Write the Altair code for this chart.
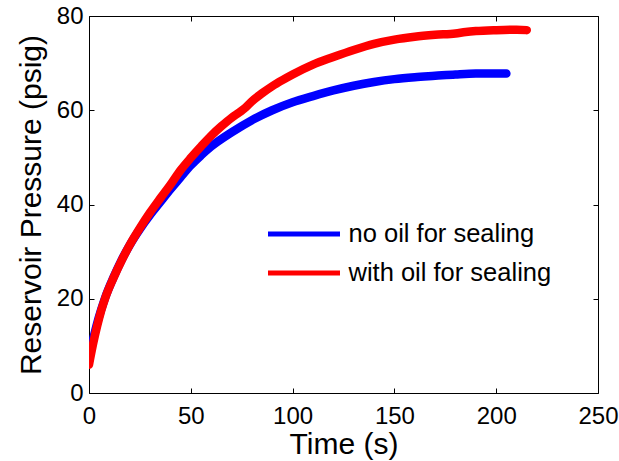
import altair as alt
import pandas as pd

# Series labels and colours
series_names = ["no oil for sealing", "with oil for sealing"]
series_colors = ["#0000ff", "#ff0000"]

# Reservoir pressure (psig) against time (s), no oil for sealing
t_no_oil = [0, 2, 4, 6, 8, 12, 16, 20, 25, 30, 35, 40, 45, 50, 55, 60, 70, 80,
            90, 100, 110, 120, 130, 140, 150, 160, 170, 180, 190, 200, 205]
p_no_oil = [7.8, 11.4, 14.8, 17.7, 20.3, 24.5, 28.2, 31.4, 34.8, 37.8, 40.5,
            43.2, 45.8, 48.3, 50.4, 52.3, 55.3, 57.9, 60.0, 61.7, 63.0, 64.2,
            65.2, 66.0, 66.6, 67.0, 67.3, 67.6, 67.8, 67.8, 67.8]

# Reservoir pressure (psig) against time (s), with oil for sealing
t_with_oil = [0, 2, 4, 6, 8, 12, 16, 20, 25, 30, 35, 40, 45, 50, 55, 60, 65, 70,
              74, 77, 80, 85, 90, 95, 100, 110, 120, 130, 140, 150, 160, 170,
              180, 185, 190, 200, 210, 215]
p_with_oil = [6.0, 10.4, 14.2, 17.5, 20.2, 24.4, 28.1, 31.4, 35.0, 38.3, 41.3,
              44.2, 47.3, 49.9, 52.3, 54.6, 56.6, 58.4, 59.6, 60.6, 61.9, 63.6,
              65.1, 66.4, 67.6, 69.7, 71.3, 72.8, 74.1, 75.0, 75.6, 76.0, 76.3,
              76.6, 76.8, 77.0, 77.1, 77.0]

x_ticks = [0, 50, 100, 150, 200, 250]
y_ticks = [0, 20, 40, 60, 80]

W, H = 509, 377
FONT = "Liberation Sans"

df = pd.concat(
    [
        pd.DataFrame({"t": t_no_oil, "p": p_no_oil, "series": series_names[0]}),
        pd.DataFrame({"t": t_with_oil, "p": p_with_oil, "series": series_names[1]}),
    ],
    ignore_index=True,
)

x_scale = alt.Scale(domain=[0, 250], nice=False, zero=False)
y_scale = alt.Scale(domain=[0, 80], nice=False, zero=False)

label_style = dict(labelFont=FONT, labelFontSize=24, labelColor="black",
                   labelFlush=False, labelOverlap=False, labelBound=False)
title_style = dict(titleFont=FONT, titleFontSize=30, titleFontWeight="normal",
                   titleColor="black", titleBaseline="alphabetic", titleAlign="center")

lines = alt.Chart(df).mark_line(
    strokeWidth=8.5, strokeCap="round", strokeJoin="round",
    interpolate="monotone", clip=True,
).encode(
    x=alt.X("t:Q", scale=x_scale, axis=alt.Axis(
        orient="bottom", values=x_ticks, ticks=False, tickSize=0, domain=False,
        grid=False, labelPadding=11, title="Time (s)", titleX=W / 2, titleY=60,
        **label_style, **title_style)),
    y=alt.Y("p:Q", scale=y_scale, axis=alt.Axis(
        orient="left", values=y_ticks, ticks=False, tickSize=0, domain=False,
        grid=False, labelPadding=6, title="Reservoir Pressure (psig)",
        titleAngle=270, titleX=-49, titleY=H / 2,
        **label_style, **title_style)),
    color=alt.Color("series:N",
                    scale=alt.Scale(domain=series_names, range=series_colors),
                    legend=alt.Legend(
                        orient="none", legendX=176.5, legendY=203, title=None,
                        direction="vertical", symbolType="stroke",
                        symbolSize=5184, symbolStrokeWidth=5, clipHeight=30,
                        rowPadding=9, labelOffset=6, labelFont=FONT,
                        labelFontSize=25.5, labelColor="black", labelLimit=0,
                        padding=0)),
)


def tick_layer(x_orient, x_offset, y_orient, y_offset):
    # invisible layer that only carries an extra pair of inward-facing tick axes
    tick_style = dict(labels=False, domain=False, grid=False, ticks=True,
                      tickSize=5, tickColor="black", tickWidth=1, title=None)
    return alt.Chart(df).mark_point(opacity=0).encode(
        x=alt.X("t:Q", scale=x_scale, axis=alt.Axis(
            orient=x_orient, offset=x_offset, values=x_ticks, **tick_style)),
        y=alt.Y("p:Q", scale=y_scale, axis=alt.Axis(
            orient=y_orient, offset=y_offset, values=y_ticks, **tick_style)),
    )


ticks_a = tick_layer("top", -H, "right", -W)
ticks_b = tick_layer("bottom", -H, "left", -W)

chart = (
    alt.layer(lines, ticks_a, ticks_b)
    .resolve_axis(x="independent", y="independent")
    .properties(
        width=W,
        height=H,
        autosize=alt.AutoSizeParams(type="none"),
        padding={"left": 89, "top": 16, "right": 21, "bottom": 68},
        background="white",
    )
    .configure_view(stroke="black", strokeWidth=1)
)

chart.save("out.html", embed_options={"renderer": "svg", "actions": False})
